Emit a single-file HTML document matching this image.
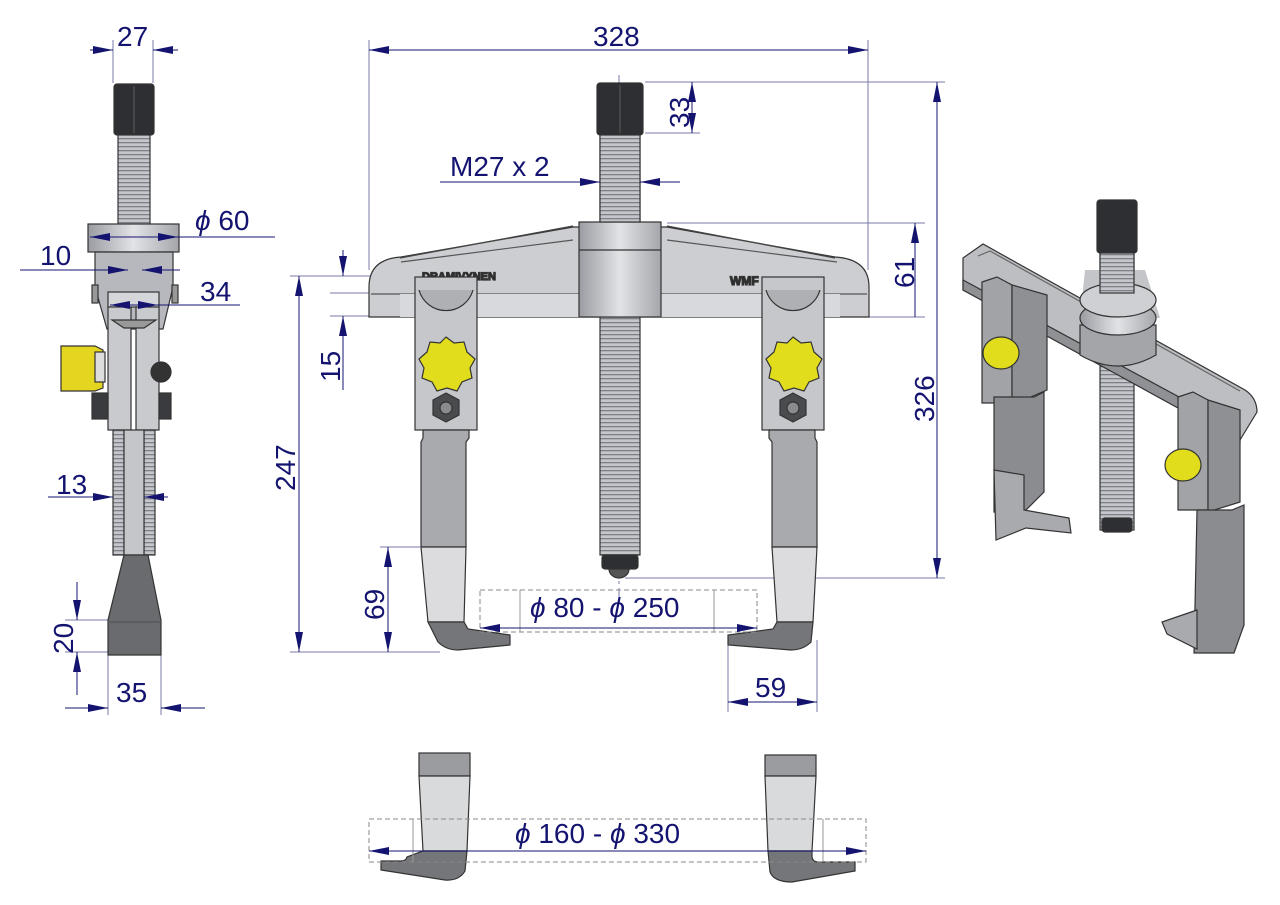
<!DOCTYPE html>
<html><head><meta charset="utf-8"><style>
html,body{margin:0;padding:0;background:#fff;width:1280px;height:905px;overflow:hidden}
svg{display:block}
text{font-family:"Liberation Sans",sans-serif;fill:#141470;font-size:28px}
</style></head><body>
<svg width="1280" height="905" viewBox="0 0 1280 905" xmlns="http://www.w3.org/2000/svg">
<defs>
<marker id="a" viewBox="0 0 20 8" refX="20" refY="4" markerWidth="20" markerHeight="8" markerUnits="userSpaceOnUse" orient="auto"><path d="M0,0L20,4L0,8z" fill="#141470"/></marker>
<pattern id="th" width="4" height="4" patternUnits="userSpaceOnUse"><rect width="4" height="4" fill="#c4c6cb"/><rect y="2" width="4" height="1.3" fill="#7d8088"/></pattern>
<linearGradient id="met" x1="0" x2="1"><stop offset="0" stop-color="#9a9ca2"/><stop offset=".5" stop-color="#e2e3e6"/><stop offset="1" stop-color="#a4a6ab"/></linearGradient>
</defs>
<g stroke="#7a7aa8" stroke-width="1" fill="none">
<line x1="113" y1="40" x2="113" y2="83"/><line x1="153" y1="40" x2="153" y2="83"/>
<line x1="369" y1="40" x2="369" y2="270"/><line x1="868" y1="40" x2="868" y2="270"/>
<line x1="645" y1="82" x2="945" y2="82"/><line x1="645" y1="133" x2="700" y2="133"/>
<line x1="667" y1="223" x2="925" y2="223"/><line x1="869" y1="317" x2="925" y2="317"/>
<line x1="625" y1="578" x2="945" y2="578"/>
<line x1="290" y1="276" x2="420" y2="276"/><line x1="330" y1="293" x2="370" y2="293"/><line x1="330" y1="316" x2="370" y2="316"/>
<line x1="290" y1="652" x2="440" y2="652"/><line x1="380" y1="547" x2="420" y2="547"/>
<line x1="728" y1="640" x2="728" y2="712"/><line x1="817" y1="640" x2="817" y2="712"/>
<line x1="65" y1="620" x2="108" y2="620"/><line x1="65" y1="652" x2="108" y2="652"/>
<line x1="108" y1="655" x2="108" y2="715"/><line x1="161" y1="655" x2="161" y2="715"/>
<line x1="619" y1="75" x2="619" y2="600" stroke-dasharray="16,4,3,4"/>
</g>
<!-- LEFT VIEW -->
<g stroke="#333" stroke-width="1.2">
<rect x="114" y="84" width="40" height="51" rx="3" fill="#2e2f33"/>
<line x1="134" y1="86" x2="134" y2="133" stroke="#555"/>
<rect x="118" y="135" width="32" height="90" fill="url(#th)"/>
<rect x="88" y="224" width="91" height="28" fill="url(#met)"/>
<path d="M95,252h78v35l-10,42h-56l-12,-42z" fill="#b6b8bd"/>
<rect x="92" y="285" width="6" height="18" fill="#999"/><rect x="172" y="285" width="6" height="18" fill="#999"/>
<rect x="108" y="292" width="51" height="15" fill="#d5d6d9"/>
<rect x="108" y="307" width="23" height="123" fill="#c9cacd"/><rect x="136" y="307" width="23" height="123" fill="#c9cacd"/>
<path d="M112,320h44l-12,8h-20z" fill="#999"/>
<path d="M61,346h34l8,4v38l-8,3h-34z" fill="#e4d520"/>
<rect x="95" y="352" width="10" height="30" fill="#ddd"/>
<rect x="92" y="393" width="16" height="26" fill="#3a3b3e"/><rect x="159" y="393" width="12" height="26" fill="#3a3b3e"/>
<circle cx="161" cy="372" r="10" fill="#333"/>
<rect x="113" y="430" width="11" height="125" fill="url(#th)"/><rect x="144" y="430" width="11" height="125" fill="url(#th)"/>
<rect x="124" y="430" width="20" height="125" fill="#c5c6c9"/>
<path d="M124,555h24l13,65v35h-53v-35z" fill="#6a6b6e"/>
<line x1="108" y1="622" x2="161" y2="622" stroke="#555"/>
</g>
<!-- MIDDLE VIEW -->
<g stroke="#333" stroke-width="1.2">
<rect x="597" y="83" width="46" height="52" rx="3" fill="#2e2f33"/>
<line x1="620" y1="85" x2="620" y2="133" stroke="#555"/>
<rect x="600" y="135" width="40" height="420" fill="url(#th)"/>
<rect x="602" y="555" width="36" height="14" rx="3" fill="#2e2f33"/>
<path d="M609,569a10,9 0 0 0 20,0z" fill="#555"/>
<path d="M369,317v-30q0,-28 32,-30l172,-30h94l168,30q34,2 34,30v30z" fill="#cdced2"/>
<path d="M400,258l173,-32M667,226l168,32" stroke="#444"/>
<path d="M401,262l172,-22M667,240l170,22" stroke="#555" fill="none"/>
<line x1="371" y1="294" x2="867" y2="294" stroke="#555"/>
<rect x="400" y="294" width="440" height="23" fill="#d8d9dc" stroke="none"/>
<rect x="579" y="222" width="82" height="95" fill="url(#met)"/>
<line x1="579" y1="250" x2="661" y2="250"/>
<rect x="600" y="135" width="40" height="87" fill="url(#th)"/>
<text x="422" y="280" style="font-size:11px;font-weight:bold;fill:#222">DRAMIVYNEN</text>
<text x="730" y="285" style="font-size:12px;font-weight:bold;fill:#222">WMF</text>
<rect x="415" y="277" width="62" height="153" fill="#c6c7cb"/>
<path d="M419,290a28,28 0 0 0 54,0" fill="#aeb0b4"/>
<path d="M446,337l8,6l10,-1l3,10l8,7l-5,9l2,10l-10,4l-5,9l-10,-3l-10,3l-5,-9l-10,-4l2,-10l-5,-9l8,-7l3,-10l10,1z" fill="#e2dd1c"/>
<path d="M433,400l13,-7l13,7v15l-13,7l-13,-7z" fill="#4a4b4e"/><circle cx="446" cy="408" r="6" fill="#8a8b8e"/>
<path d="M423,430h46v8l-3,4v105h-45v-105l2,-4z" fill="#a9aaae"/>
<path d="M421,547h45l-2,75h-36z" fill="#dcdcde"/>
<path d="M428,622h36l4,7l42,6v10l-52,5q-12,0-20,-8z" fill="#75767a"/>
<rect x="762" y="277" width="62" height="153" fill="#c6c7cb"/>
<path d="M766,290a28,28 0 0 0 54,0" fill="#aeb0b4"/>
<path d="M793,337l8,6l10,-1l3,10l8,7l-5,9l2,10l-10,4l-5,9l-10,-3l-10,3l-5,-9l-10,-4l2,-10l-5,-9l8,-7l3,-10l10,1z" fill="#e2dd1c"/>
<path d="M780,400l13,-7l13,7v15l-13,7l-13,-7z" fill="#4a4b4e"/><circle cx="793" cy="408" r="6" fill="#8a8b8e"/>
<path d="M769,430h46v8l2,4v105h-45v-105l-3,-4z" fill="#a9aaae"/>
<path d="M772,547h45l-4,75h-36z" fill="#dcdcde"/>
<path d="M777,622h36l-2,20q-8,8-20,8l-63,-5v-10l45,-6z" fill="#75767a"/>
</g>
<!-- BOTTOM JAWS -->
<g stroke="#333" stroke-width="1.2">
<rect x="419" y="753" width="51" height="23" fill="#9b9ca0"/>
<path d="M419,776h51l-3,75h-44z" fill="#d9dadc"/>
<path d="M423,851h44l-2,20q-6,10-20,9l-64,-10v-9h20q5,0,6,-4z" fill="#75767a"/>
<rect x="765" y="755" width="51" height="21" fill="#9b9ca0"/>
<path d="M765,776h51l-4,75h-44z" fill="#d9dadc"/>
<path d="M768,851h44v6q1,5,6,5h37v9l-63,11q-18,0-22,-10z" fill="#75767a"/>
</g>
<g stroke="#888" stroke-dasharray="5,3" fill="none">
<rect x="369" y="819" width="497" height="43"/><rect x="480" y="590" width="277" height="42"/>
</g>
<g stroke="#999" fill="none"><line x1="413" y1="819" x2="413" y2="862"/><line x1="823" y1="819" x2="823" y2="862"/><line x1="520" y1="590" x2="520" y2="632"/><line x1="714" y1="590" x2="714" y2="632"/></g>
<!-- ISO VIEW -->
<g stroke="#333" stroke-width="1.2">
<rect x="1100" y="253" width="34" height="277" fill="url(#th)"/>
<rect x="1102" y="518" width="30" height="14" rx="3" fill="#2e2f33"/>
<path d="M963,258l20,-14l262,146q12,8,12,22l-17,28l-277,-150z" fill="#bcbec2"/>
<path d="M963,280l277,150v12l-277,-152z" fill="#8f9195"/>
<path d="M978,256l12,-5l250,140" stroke="#666" fill="none"/>
<path d="M1080,325v30q38,22 76,0v-30z" fill="#a3a5a9"/>
<path d="M1085,270l60,0l15,48h-80z" fill="#c3c5c9" stroke="none"/>
<ellipse cx="1118" cy="318" rx="38" ry="17" fill="url(#met)"/>
<ellipse cx="1118" cy="300" rx="38" ry="17" fill="#cfd0d3"/>
<rect x="1097" y="200" width="40" height="53" rx="3" fill="#2e2f33"/>
<rect x="1100" y="253" width="34" height="40" fill="url(#th)"/>
<path d="M982,282l15,-5l15,8v118h-30z" fill="#a1a3a7"/>
<path d="M1012,285l35,10v95l-35,15z" fill="#8e9094"/>
<path d="M994,397h40l10,-5v100l-20,20h-30z" fill="#8a8c90"/>
<path d="M994,470l30,5v35l45,8l2,15l-45,-5l-30,12z" fill="#a8aaae"/>
<ellipse cx="1001" cy="353" rx="18" ry="16" fill="#e2dd1c"/>
<path d="M1178,397l15,-5l15,8v110h-30z" fill="#a1a3a7"/>
<path d="M1208,400l32,10v92l-32,10z" fill="#8e9094"/>
<path d="M1197,510h35l12,-5v120l-10,28h-40z" fill="#8a8c90"/>
<path d="M1197,610l-35,12l5,12l30,15z" fill="#a8aaae"/>
<ellipse cx="1183" cy="465" rx="18" ry="16" fill="#e2dd1c"/>
</g>
<!-- DIMENSIONS -->
<g stroke="#141470" stroke-width="1" fill="none">
<line x1="90" y1="50" x2="113" y2="50" marker-end="url(#a)"/><line x1="178" y1="50" x2="153" y2="50" marker-end="url(#a)"/>
<line x1="620" y1="50" x2="369" y2="50" marker-end="url(#a)"/><line x1="620" y1="50" x2="868" y2="50" marker-end="url(#a)"/>
<line x1="692" y1="108" x2="692" y2="82" marker-end="url(#a)"/><line x1="692" y1="108" x2="692" y2="133" marker-end="url(#a)"/>
<line x1="440" y1="182" x2="600" y2="182" marker-end="url(#a)"/><line x1="680" y1="182" x2="640" y2="182" marker-end="url(#a)"/>
<line x1="134" y1="237" x2="90" y2="237" marker-end="url(#a)"/><line x1="134" y1="237" x2="178" y2="237" marker-end="url(#a)"/><line x1="178" y1="237" x2="275" y2="237"/>
<line x1="20" y1="270" x2="128" y2="270" marker-end="url(#a)"/><line x1="180" y1="270" x2="142" y2="270" marker-end="url(#a)"/>
<line x1="134" y1="305" x2="110" y2="305" marker-end="url(#a)"/><line x1="134" y1="305" x2="158" y2="305" marker-end="url(#a)"/><line x1="158" y1="305" x2="240" y2="305"/>
<line x1="915" y1="270" x2="915" y2="223" marker-end="url(#a)"/><line x1="915" y1="270" x2="915" y2="317"/>
<line x1="937" y1="330" x2="937" y2="82" marker-end="url(#a)"/><line x1="937" y1="330" x2="937" y2="578" marker-end="url(#a)"/>
<line x1="343" y1="250" x2="343" y2="276" marker-end="url(#a)"/><line x1="343" y1="390" x2="343" y2="316" marker-end="url(#a)"/>
<line x1="299" y1="460" x2="299" y2="276" marker-end="url(#a)"/><line x1="299" y1="460" x2="299" y2="652" marker-end="url(#a)"/>
<line x1="388" y1="600" x2="388" y2="547" marker-end="url(#a)"/><line x1="388" y1="600" x2="388" y2="652" marker-end="url(#a)"/>
<line x1="48" y1="497" x2="113" y2="497" marker-end="url(#a)"/><line x1="168" y1="497" x2="144" y2="497" marker-end="url(#a)"/>
<line x1="77" y1="582" x2="77" y2="620" marker-end="url(#a)"/><line x1="77" y1="695" x2="77" y2="652" marker-end="url(#a)"/>
<line x1="65" y1="708" x2="108" y2="708" marker-end="url(#a)"/><line x1="205" y1="708" x2="161" y2="708" marker-end="url(#a)"/>
<line x1="619" y1="628" x2="480" y2="628" marker-end="url(#a)"/><line x1="619" y1="628" x2="757" y2="628" marker-end="url(#a)"/>
<line x1="772" y1="702" x2="728" y2="702" marker-end="url(#a)"/><line x1="772" y1="702" x2="817" y2="702" marker-end="url(#a)"/>
<line x1="618" y1="851" x2="369" y2="851" marker-end="url(#a)"/><line x1="618" y1="851" x2="866" y2="851" marker-end="url(#a)"/>
</g>
<text x="117" y="46">27</text>
<text x="593" y="46">328</text>
<text x="450" y="176">M27 x 2</text>
<text x="195" y="230"><tspan font-style="italic">ϕ</tspan>  60</text>
<text x="40" y="265">10</text>
<text x="200" y="301">34</text>
<text x="56" y="494">13</text>
<text x="116" y="702">35</text>
<text x="755" y="697">59</text>
<text x="530" y="617"><tspan font-style="italic">ϕ</tspan> 80 - <tspan font-style="italic">ϕ</tspan> 250</text>
<text x="515" y="843"><tspan font-style="italic">ϕ</tspan> 160 - <tspan font-style="italic">ϕ</tspan> 330</text>
<text transform="translate(689,128) rotate(-90)">33</text>
<text transform="translate(914,288) rotate(-90)">61</text>
<text transform="translate(934,422) rotate(-90)">326</text>
<text transform="translate(340,382) rotate(-90)">15</text>
<text transform="translate(295,491) rotate(-90)">247</text>
<text transform="translate(384,620) rotate(-90)">69</text>
<text transform="translate(73,654) rotate(-90)">20</text>
</svg>
</body></html>
